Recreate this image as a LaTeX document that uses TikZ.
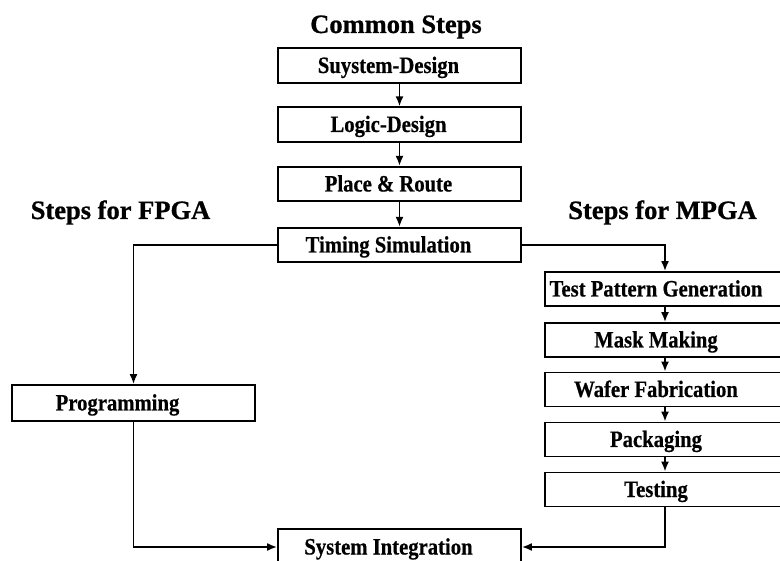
\documentclass[tikz,border=0pt]{standalone}
\usepackage{fontspec}
\setmainfont[FakeStretch=0.88, BoldFeatures={FakeBold=0.5}]{Liberation Serif}
\newfontfamily\headfont[BoldFeatures={FakeBold=0.8}]{Liberation Serif}
\usetikzlibrary{arrows.meta}
\begin{document}
\begin{tikzpicture}[x=1pt,y=-1pt,
  stepbox/.style={draw, line width=1.8pt, inner sep=0pt,
    font=\fontsize{23.5}{25}\selectfont\bfseries,
    text height=15pt, text depth=0pt},
  commonbox/.style={stepbox, minimum width=243pt, minimum height=34.5pt},
  mpgabox/.style={stepbox, minimum width=240pt, minimum height=34pt},
  title/.style={anchor=base, inner sep=0pt, font=\headfont\fontsize{26.5}{28}\selectfont\bfseries},
  flow/.style={line width=1.8pt, -{Latex[length=10pt,width=8pt]}}]
\useasboundingbox (0,0) rectangle (780,561);

% headings
\node[title] (hcommon) at (396,33) {Common Steps};
\node[title] (hfpga) at (120.5,219) {Steps for FPGA};
\node[title] (hmpga) at (662.5,219) {Steps for MPGA};

% common design steps
\node[commonbox] (sd) at (399.5,65.5) {Suystem-Design\hspace*{22pt}};
\node[commonbox] (ld) at (399.5,124.5) {Logic-Design\hspace*{22pt}};
\node[commonbox] (pr) at (399.5,184) {Place \& Route\hspace*{22pt}};
\node[commonbox] (ts) at (399.5,245) {Timing Simulation\hspace*{22pt}};

% FPGA branch
\node[commonbox, minimum height=36pt] (prog) at (133.5,403) {Programming\hspace*{32pt}};

% MPGA branch
\node[mpgabox] (tp) at (665,289) {Test Pattern Generation\hspace*{18pt}};
\node[mpgabox] (mm) at (665,340) {Mask Making\hspace*{18pt}};
\node[mpgabox] (wf) at (665,389.5) {Wafer Fabrication\hspace*{18pt}};
\node[mpgabox] (pk) at (665,439.5) {Packaging\hspace*{18pt}};
\node[mpgabox] (te) at (665,489.5) {Testing\hspace*{18pt}};

% final step
\node[commonbox, minimum height=36pt] (si) at (399.5,547) {System Integration\hspace*{22pt}};

% connectors
\draw[flow] (sd) -- (ld);
\draw[flow] (ld) -- (pr);
\draw[flow] (pr) -- (ts);
\draw[flow] (ts.west) -| (prog.north);
\draw[flow] (ts.east) -| (tp.north);
\draw[flow] (tp) -- (mm);
\draw[flow] (mm) -- (wf);
\draw[flow] (wf) -- (pk);
\draw[flow] (pk) -- (te);
\draw[flow] (prog.south) |- (si.west);
\draw[flow] (te.south) |- (si.east);
\end{tikzpicture}
\end{document}
